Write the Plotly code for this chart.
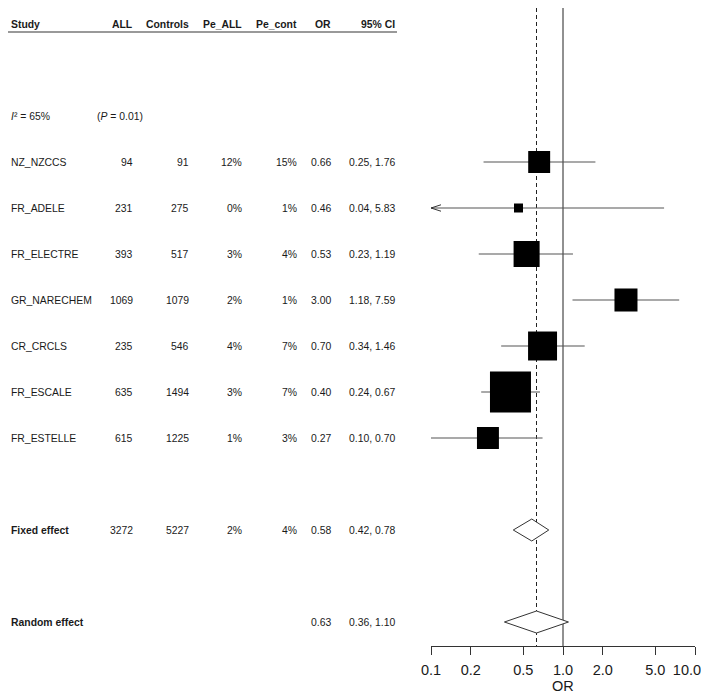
import numpy as np
import plotly.graph_objects as go

# ---------------- data ----------------
studies = ["NZ_NZCCS", "FR_ADELE", "FR_ELECTRE", "GR_NARECHEM", "CR_CRCLS", "FR_ESCALE", "FR_ESTELLE"]
n_all = [94, 231, 393, 1069, 235, 635, 615]
n_controls = [91, 275, 517, 1079, 546, 1494, 1225]
pe_all = ["12%", "0%", "3%", "2%", "4%", "3%", "1%"]
pe_cont = ["15%", "1%", "4%", "1%", "7%", "7%", "3%"]
or_est = [0.66, 0.46, 0.53, 3.00, 0.70, 0.40, 0.27]
ci_low = [0.25, 0.04, 0.23, 1.18, 0.34, 0.24, 0.10]
ci_high = [1.76, 5.83, 1.19, 7.59, 1.46, 0.67, 0.70]
weights = [10.1, 1.7, 14.2, 11.1, 17.6, 35.2, 10.1]  # study weights (%), read from square areas

fixed_label = "Fixed effect"
fixed_n_all, fixed_n_controls = 3272, 5227
fixed_pe_all, fixed_pe_cont = "2%", "4%"
fixed_or, fixed_low, fixed_high = 0.58, 0.42, 0.78

random_label = "Random effect"
random_or, random_low, random_high = 0.63, 0.36, 1.10

het_i2 = "65%"
het_p = "0.01"

header = ["Study", "ALL", "Controls", "Pe_ALL", "Pe_cont", "OR", "95% CI"]
tick_vals = [0.1, 0.2, 0.5, 1, 2, 5, 10]
tick_text = ["0.1", "0.2", "0.5", "1.0", "2.0", "5.0", "10.0"]
x_title = "OR"

# ---------------- layout geometry ----------------
# the page adds an 8px body margin, so figure pixel = target pixel - 8
OFF = 8
W, H = 709, 693
ROW0_PX, ROW_PX = 24 - OFF, 46          # pixel centre of header row, row spacing
PLOT_BOTTOM_PX = 646 - OFF
y_top = -ROW0_PX / ROW_PX
y_bot = (PLOT_BOTTOM_PX - ROW0_PX) / ROW_PX
x_min, x_max = 0.1, 10
AX_L, AX_R = 431 - OFF, 695 - OFF

r_header, r_het = 0, 2
r_studies = list(range(3, 3 + len(studies)))
r_fixed, r_random = 11, 13

FONT = "Liberation Sans, Arial, Helvetica, sans-serif"
TXT = "#1a1a1a"
FS = 10.4
col_right_px = [None] + [v - OFF for v in (135, 191, 244, 299, 333, 397)]
left_px = 1
p_left_px = 95 - OFF

# keep the last tick label inside the visible page edge (pad with no-break spaces)
tick_text_disp = tick_text[:-1] + [tick_text[-1] + "\u00a0" * 4]

fig = go.Figure()

# reference lines
fig.add_trace(go.Scatter(x=[1, 1], y=[y_top, y_bot], mode="lines",
                         line=dict(color="#222", width=1), hoverinfo="skip", showlegend=False))
fig.add_trace(go.Scatter(x=[random_or, random_or], y=[y_top, y_bot], mode="lines",
                         line=dict(color="#222", width=1, dash="4px,3px"), hoverinfo="skip", showlegend=False))

# CI lines
cx, cy = [], []
for lo, hi, r in zip(ci_low, ci_high, r_studies):
    cx += [max(lo, x_min), min(hi, x_max), None]
    cy += [r, r, None]
fig.add_trace(go.Scatter(x=cx, y=cy, mode="lines", line=dict(color="#555", width=1.2),
                         hoverinfo="skip", showlegend=False))

# arrows for truncated CIs
ax, ay = [], []
arr_f = 10 ** (10 / 132)
for lo, r in zip(ci_low, r_studies):
    if lo < x_min:
        ax += [x_min * arr_f, x_min, x_min * arr_f, None]
        ay += [r - 0.07, r, r + 0.07, None]
fig.add_trace(go.Scatter(x=ax, y=ay, mode="lines", line=dict(color="#333", width=1),
                         hoverinfo="skip", showlegend=False))

# squares (area proportional to weight)
sizes = [6.91 * np.sqrt(w) for w in weights]
fig.add_trace(go.Scatter(x=or_est, y=r_studies, mode="markers",
                         marker=dict(symbol="square", size=sizes, color="black", opacity=1,
                                     line=dict(width=0)),
                         hoverinfo="skip", showlegend=False))

# diamonds
dh = 11 / ROW_PX
for est, lo, hi, r in [(fixed_or, fixed_low, fixed_high, r_fixed),
                       (random_or, random_low, random_high, r_random)]:
    fig.add_trace(go.Scatter(x=[lo, est, hi, est, lo], y=[r, r - dh, r, r + dh, r],
                             mode="lines", fill="toself", fillcolor="white",
                             line=dict(color="#333", width=1), hoverinfo="skip", showlegend=False))

# ---------------- table text ----------------
ann = []

def txt(x_px, r, s, anchor="right", bold=False):
    ann.append(dict(xref="paper", yref="y", x=x_px / W, y=r, text=(f"<b>{s}</b>" if bold else s),
                    xanchor=anchor, yanchor="middle", showarrow=False,
                    font=dict(family=FONT, size=FS, color=TXT)))

txt(left_px, r_header, header[0], anchor="left", bold=True)
for h, xp in zip(header[1:], col_right_px[1:]):
    txt(xp, r_header, h, bold=True)

txt(left_px, r_het, f"<i>I</i>² = {het_i2}", anchor="left")
txt(p_left_px, r_het, f"(<i>P</i> = {het_p})", anchor="left")

for i, r in enumerate(r_studies):
    txt(left_px, r, studies[i], anchor="left")
    vals = [str(n_all[i]), str(n_controls[i]), pe_all[i], pe_cont[i],
            f"{or_est[i]:.2f}", f"{ci_low[i]:.2f}, {ci_high[i]:.2f}"]
    for v, xp in zip(vals, col_right_px[1:]):
        txt(xp, r, v)

txt(left_px, r_fixed, fixed_label, anchor="left", bold=True)
for v, xp in zip([str(fixed_n_all), str(fixed_n_controls), fixed_pe_all, fixed_pe_cont,
                  f"{fixed_or:.2f}", f"{fixed_low:.2f}, {fixed_high:.2f}"], col_right_px[1:]):
    txt(xp, r_fixed, v)

txt(left_px, r_random, random_label, anchor="left", bold=True)
for v, xp in zip([f"{random_or:.2f}", f"{random_low:.2f}, {random_high:.2f}"], col_right_px[5:]):
    txt(xp, r_random, v)

# axis title
ann.append(dict(xref="x", yref="paper", x=0, y=-(678 - PLOT_BOTTOM_PX) / PLOT_BOTTOM_PX,
                text=x_title, showarrow=False, xanchor="center", yanchor="middle",
                font=dict(family=FONT, size=14.5, color=TXT)))

line_y = (32 - OFF - ROW0_PX) / ROW_PX
shapes = [dict(type="line", xref="paper", yref="y", x0=0, x1=col_right_px[-1] / W,
               y0=line_y, y1=line_y, line=dict(color="#777", width=1.5))]

fig.update_layout(
    width=W, height=H, autosize=False,
    margin=dict(l=0, r=0, t=0, b=H - PLOT_BOTTOM_PX, pad=0, autoexpand=False),
    paper_bgcolor="white", plot_bgcolor="white",
    showlegend=False,
    annotations=ann, shapes=shapes,
    xaxis=dict(type="log", range=[np.log10(x_min), np.log10(x_max)],
               domain=[AX_L / W, AX_R / W],
               tickvals=tick_vals, ticktext=tick_text_disp,
               ticks="outside", ticklen=8, tickwidth=1, tickcolor="#333",
               ticklabelstandoff=3, ticklabeloverflow="allow",
               showline=True, linecolor="#333", linewidth=1,
               showgrid=False, zeroline=False,
               tickfont=dict(family=FONT, size=14.5, color=TXT)),
    yaxis=dict(range=[y_bot, y_top], visible=False, showgrid=False, zeroline=False),
)

fig.write_html("out.html", config={"displayModeBar": False})
